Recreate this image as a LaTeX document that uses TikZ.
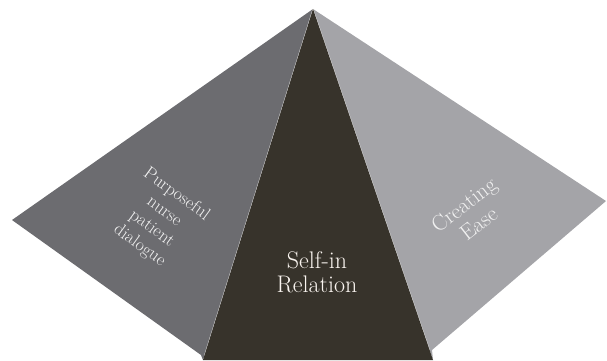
\documentclass[tikz,border=0pt]{standalone}
\usetikzlibrary{calc}
\begin{document}
\begin{tikzpicture}[x=1pt,y=-1pt,
  facelbl/.style={text=white!88!gray, align=center, inner sep=0pt},
  edgehl/.style={draw=white!80!gray, line width=0.8pt}]
\definecolor{leftface}{HTML}{6C6C70}
\definecolor{rightface}{HTML}{A4A4A8}
\definecolor{darkface}{HTML}{37332B}
\useasboundingbox (0,0) rectangle (607,360);
\coordinate (apex) at (313,9);
\coordinate (lp) at (12,220);
\coordinate (rp) at (606,201);
\coordinate (lb) at (201,355);
\coordinate (rb) at (432,350);
\coordinate (dl) at (203,360);
\coordinate (dr) at (433,360);
% faces
\fill[leftface] (apex) -- (lp) -- (lb) -- (dl) -- cycle;
\fill[rightface] (apex) -- (rp) -- (rb) -- (dr) -- cycle;
\draw[edgehl] (apex) -- ($(apex)!0.985!(dl)$);
\draw[edgehl] (apex) -- ($(apex)!0.97!(dr)$);
\fill[darkface] (apex) -- (dl) -- (dr) -- cycle;
% labels
\node[facelbl, rotate=-36, font=\fontsize{18}{21}\selectfont] (purp) at (158,220) {Purposeful\\nurse\\patient\\dialogue};
\node[facelbl, rotate=38, font=\fontsize{22}{24}\selectfont] (ease) at (471,214) {Creating\\Ease};
\node[facelbl, text=white!92!brown, font=\fontsize{24}{24}\selectfont] (self) at (317,272) {Self-in\\Relation};
\end{tikzpicture}
\end{document}
